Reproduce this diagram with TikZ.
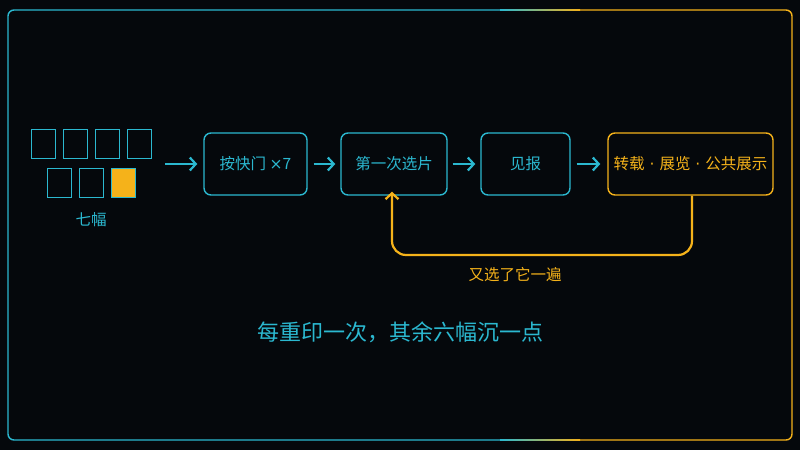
\documentclass[tikz,border=0pt]{standalone}
\usepackage{fontspec}
\setmainfont{Noto Sans CJK SC}
\newfontfamily\latf{DejaVu Sans}
\usetikzlibrary{arrows.meta}
\definecolor{cy}{HTML}{2BB8D0}
\definecolor{og}{HTML}{F5B21A}
\definecolor{bg}{HTML}{05080C}
\begin{document}
\begin{tikzpicture}[x=1pt,y=-1pt,
  box/.style={draw=cy,line width=1.4pt,rounded corners=7pt,text=cy,font=\fontsize{15.5}{18}\selectfont,inner sep=0},
  sq/.style={draw=cy,line width=1pt,minimum width=24pt,minimum height=29pt,inner sep=0},
  arr/.style={draw=cy,line width=2.2pt,-{Straight Barb[length=6pt,width=13pt,line width=2.2pt]}}]
\fill[bg] (0,0) rectangle (800,450);
\useasboundingbox (0,0) rectangle (800,450);
\begin{scope}
\clip (0,0) rectangle (500,450);
\draw[cy,line width=1.4pt,rounded corners=6pt] (8,10) rectangle (792,440);
\end{scope}
\begin{scope}
\clip (580,0) rectangle (800,450);
\draw[og,line width=1.4pt,rounded corners=6pt] (8,10) rectangle (792,440);
\end{scope}
\shade[left color=cy,right color=og] (500,9.3) rectangle (580,10.7);
\shade[left color=cy,right color=og] (500,439.3) rectangle (580,440.7);
\foreach \x [count=\i] in {43,75,107,139}{\node[sq] (a\i) at (\x,143.5) {};}
\foreach \x [count=\i] in {59,91}{\node[sq] (b\i) at (\x,182.5) {};}
\node[sq,fill=og] (b3) at (123,182.5) {};
\node[text=cy,font=\fontsize{15.5}{18}\selectfont] (l7) at (91,220) {七幅};
\coordinate (s) at (165,164);
\node[box,minimum width=103pt,minimum height=62pt] (n1) at (255.5,164) {按快门 {\latf ×}7};
\node[box,minimum width=106pt,minimum height=62pt] (n2) at (394,164) {第一次选片};
\node[box,minimum width=89pt,minimum height=62pt] (n3) at (525.5,164) {见报};
\node[box,draw=og,text=og,minimum width=165pt,minimum height=62pt] (n4) at (690.5,164) {转载{\latf\ ·\ }展览{\latf\ ·\ }公共展示};
\draw[arr] (s) -- ([xshift=-6pt]n1.west);
\draw[arr] ([xshift=6pt]n1.east) -- ([xshift=-5pt]n2.west);
\draw[arr] ([xshift=5pt]n2.east) -- ([xshift=-5pt]n3.west);
\draw[arr] ([xshift=6pt]n3.east) -- ([xshift=-7pt]n4.west);
\draw[og,line width=2.2pt,rounded corners=14pt,-{Straight Barb[length=6pt,width=13pt,line width=2.2pt]}] (n4.south-|692,0) -- (692,255) -- (392,255) -- ([yshift=4pt]n2.south-|392,0);
\node[text=og,font=\fontsize{15.5}{18}\selectfont] (lb) at (515,275) {又选了它一遍};
\node[text=cy,font=\fontsize{22}{26}\selectfont] (t) at (400,332) {每重印一次，其余六幅沉一点};
\end{tikzpicture}
\end{document}
